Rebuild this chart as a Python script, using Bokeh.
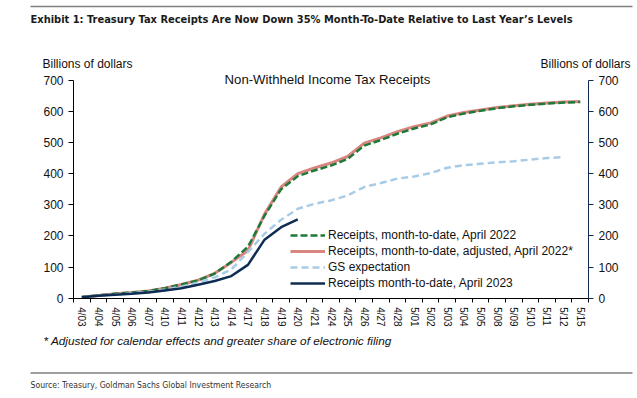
from bokeh.plotting import figure
from bokeh.models import Range1d, LinearAxis, FixedTicker, Label, Legend, LegendItem
from bokeh.embed import file_html
from bokeh.resources import INLINE

# ---- data (billions of dollars, cumulative month-to-date) ----
dates = ["4/03", "4/04", "4/05", "4/06", "4/07", "4/10", "4/11", "4/12", "4/13", "4/14",
         "4/17", "4/18", "4/19", "4/20", "4/21", "4/24", "4/25", "4/26", "4/27", "4/28",
         "5/01", "5/02", "5/03", "5/04", "5/05", "5/08", "5/09", "5/10", "5/11", "5/12", "5/15"]
receipts_2022 = [4, 9, 14, 18, 23, 32, 44, 57, 79, 117, 165, 265, 350, 392, 410, 426, 447,
                 490, 508, 528, 545, 558, 581, 593, 602, 610, 616, 621, 625, 628, 630]
adjusted_2022 = [4, 9, 14, 18, 23, 32, 44, 58, 80, 115, 153, 270, 357, 400, 418, 434, 455,
                 498, 515, 535, 551, 563, 585, 596, 604, 612, 618, 623, 627, 630, 632]
gs_expectation = [3, 8, 12, 16, 20, 28, 37, 50, 67, 92, 148, 207, 252, 287, 303, 314, 330,
                  357, 370, 384, 391, 402, 419, 427, 432, 436, 440, 445, 450, 453]
receipts_2023 = [3, 8, 11, 14, 18, 25, 32, 43, 55, 71, 107, 188, 228, 253]
y_ticks = [0, 100, 200, 300, 400, 500, 600, 700]

legend_labels = ["Receipts, month-to-date, April 2022",
                 "Receipts, month-to-date, adjusted, April 2022*",
                 "GS expectation",
                 "Receipts month-to-date, April 2023"]

title_text = "Exhibit 1: Treasury Tax Receipts Are Now Down 35% Month-To-Date Relative to Last Year\u2019s Levels"
chart_title = "Non-Withheld Income Tax Receipts"
axis_text = "Billions of dollars"
footnote_text = "* Adjusted for calendar effects and greater share of electronic filing"
source_text = "Source: Treasury, Goldman Sachs Global Investment Research"

GREEN = "#1f7a3a"
RED = "#d98580"
LBLUE = "#a8cbe6"
NAVY = "#0f2d52"
FONT = "Liberation Sans"
NARROW = "'DejaVu Sans Condensed', 'Liberation Sans', sans-serif"

W, H = 637, 398
n = len(dates)
xs = [i + 0.5 for i in range(n)]

# the plot area (0..n, 0..700) sits at x 73..588, y 79.7..297.7 of the canvas
PX = (588 - 73) / n
PY = (297.7 - 79.7) / 700


def dx(px):
    return (px - 73) / PX


def dy(py):
    return (297.7 - py) / PY


p = figure(width=W, height=H, output_backend="svg", toolbar_location=None,
           x_range=Range1d(dx(0), dx(W)), y_range=Range1d(dy(H), dy(0)),
           min_border=0, x_axis_location=None, y_axis_location=None)
p.outline_line_color = None
p.xgrid.visible = False
p.ygrid.visible = False
p.background_fill_color = "white"
p.border_fill_color = "white"

# axes fixed at the edges of the data area
xaxis = LinearAxis(ticker=FixedTicker(ticks=xs, minor_ticks=list(range(n + 1))),
                   major_label_overrides={x: d for x, d in zip(xs, dates)},
                   fixed_location=0, bounds=(0, n))
xaxis.major_label_orientation = "vertical"
xaxis.major_tick_out = 0
xaxis.major_tick_in = 0
xaxis.minor_tick_out = 4
xaxis.minor_tick_in = 0
xaxis.minor_tick_line_color = "black"
xaxis.axis_line_color = "black"
xaxis.major_label_text_font = FONT
xaxis.major_label_text_font_size = "10px"
xaxis.major_label_text_color = "#111111"
xaxis.major_label_standoff = 5
p.add_layout(xaxis, "below")

for side, col, loc in (("left", "black", 0), ("right", NAVY, n)):
    ax = LinearAxis(ticker=FixedTicker(ticks=y_ticks), fixed_location=loc, bounds=(0, 700))
    ax.axis_line_color = col
    ax.major_tick_line_color = col
    ax.major_tick_out = 5
    ax.major_tick_in = 0
    ax.minor_tick_line_color = None
    ax.major_label_text_font = FONT
    ax.major_label_text_font_size = "12px"
    ax.major_label_text_color = "#111111"
    ax.major_label_standoff = 5
    p.add_layout(ax, side)

# lines
r_adj = p.line(xs, adjusted_2022, line_color=RED, line_width=3)
r_22 = p.line(xs, receipts_2022, line_color=GREEN, line_width=2.5, line_dash="7 3")
r_gs = p.line(xs[:len(gs_expectation)], gs_expectation, line_color=LBLUE, line_width=2.5,
              line_dash="7 4")
r_23 = p.line(xs[:len(receipts_2023)], receipts_2023, line_color=NAVY, line_width=2.5)

legend = Legend(items=[LegendItem(label=legend_labels[0], renderers=[r_22]),
                       LegendItem(label=legend_labels[1], renderers=[r_adj]),
                       LegendItem(label=legend_labels[2], renderers=[r_gs]),
                       LegendItem(label=legend_labels[3], renderers=[r_23])],
                location=(290, H - 291))
legend.padding = 0
legend.margin = 0
legend.spacing = 0
legend.glyph_width = 35
legend.glyph_height = 16
legend.label_height = 16
legend.label_standoff = 3
legend.label_text_font = FONT
legend.label_text_font_size = "12px"
legend.label_text_color = "#111111"
legend.border_line_color = None
legend.background_fill_alpha = 0
p.add_layout(legend)


def label(text, px, py, font=FONT, size="12px", align="left", style="normal", color="#111111"):
    p.add_layout(Label(x=dx(px), y=dy(py), text=text, text_font=font, text_font_size=size,
                       text_align=align, text_baseline="middle", text_font_style=style,
                       text_color=color))


label(title_text, 30, 19, font=NARROW, size="11px", style="bold", color="#1a1a1a")
label(axis_text, 42, 63)
label(axis_text, 630, 63, align="right")
label(chart_title, 327, 79, size="13.2px", align="center")
label(footnote_text, 43, 340, size="11.8px", style="italic")
label(source_text, 30, 384, font=NARROW, size="8.6px", color="#333333")

# horizontal rules above the title and above the source line
p.segment(x0=[dx(30), dx(30)], y0=[dy(6), dy(372.5)], x1=[dx(632), dx(632)],
          y1=[dy(6), dy(372.5)], line_color="#7f7f7f", line_width=1.3)

open("out.html", "w").write(file_html(p, INLINE))
